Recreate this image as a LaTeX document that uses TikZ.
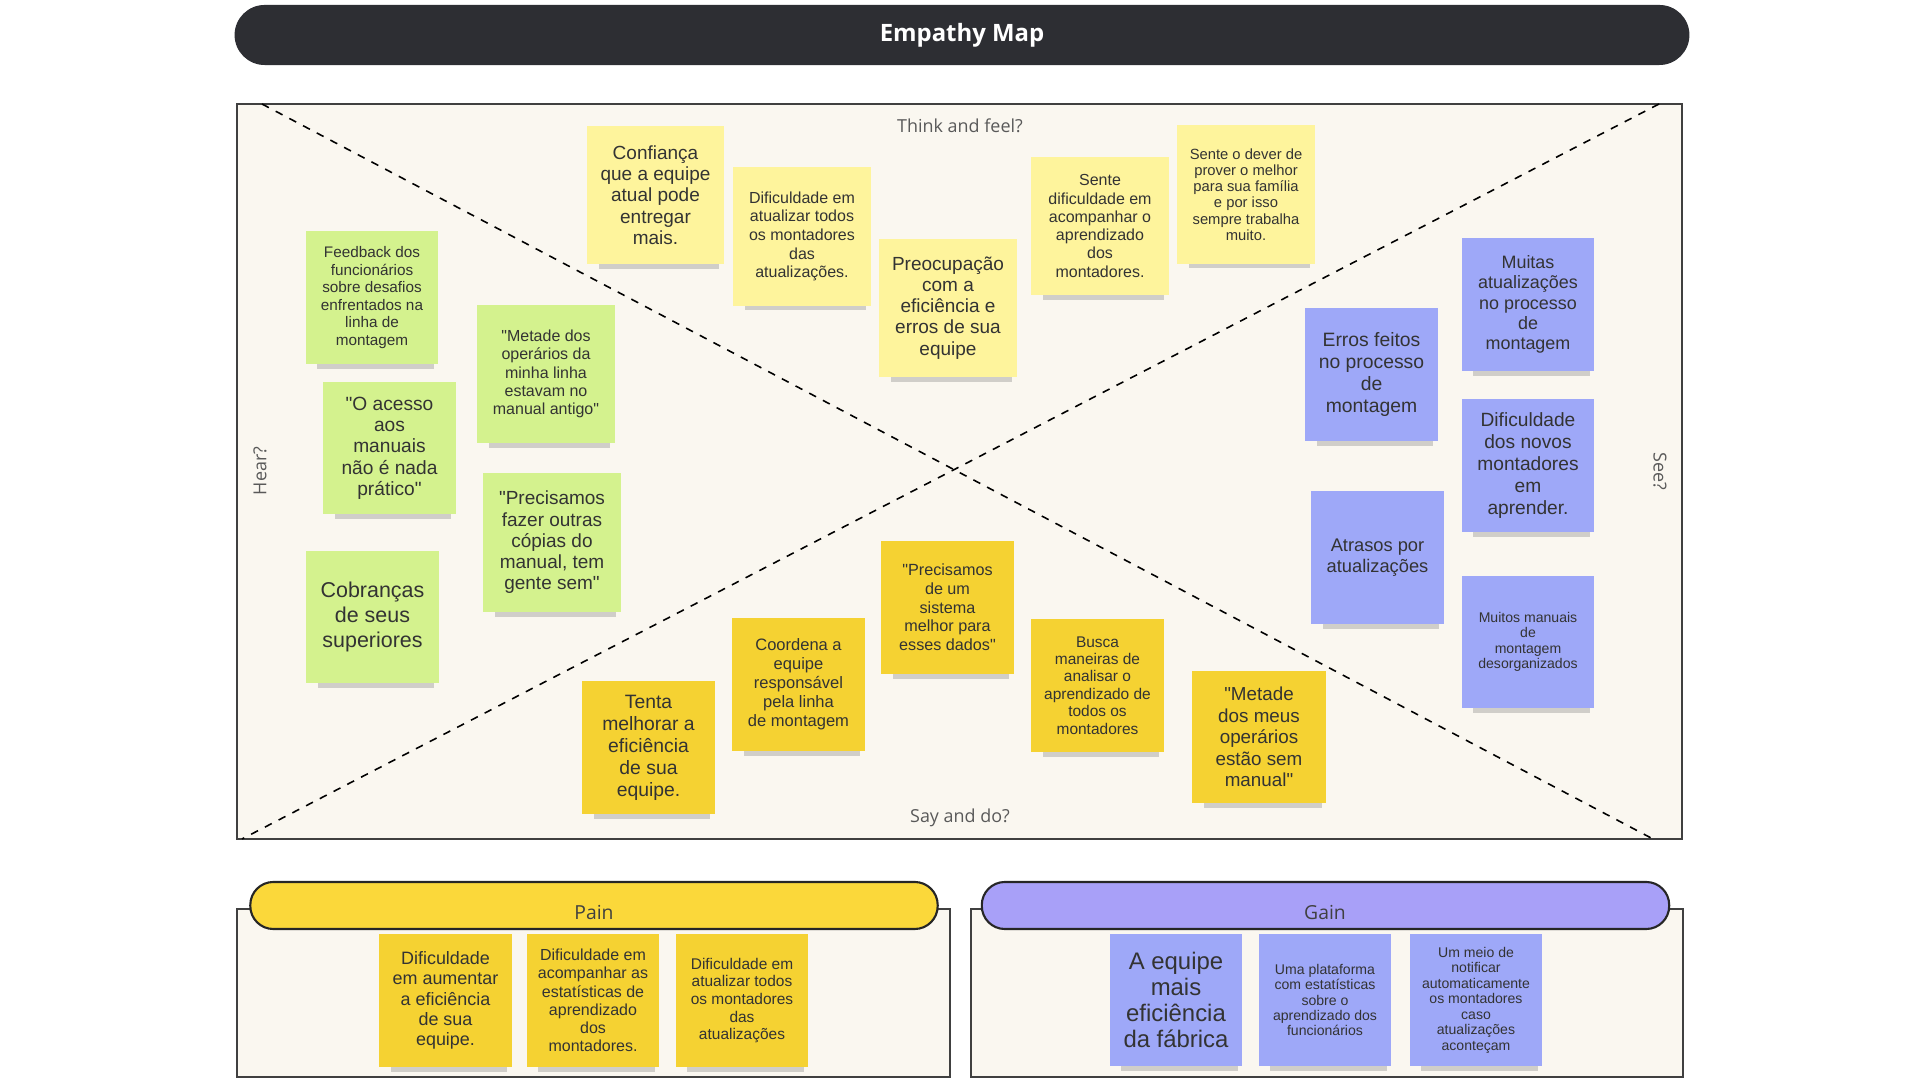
\documentclass[tikz,border=0pt]{standalone}
\usepackage{fontspec}
\setmainfont{Liberation Sans}[Ligatures=TeXOff]
\newfontfamily\labelfont{Open Sans}
\usetikzlibrary{shadows}

\definecolor{titlegray}{HTML}{2D2E33}
\definecolor{cream}{HTML}{FAF7F0}
\definecolor{notetext}{HTML}{333333}
\definecolor{thinkyel}{HTML}{FEF49C}
\definecolor{heargreen}{HTML}{D4F28E}
\definecolor{sayyel}{HTML}{F5D232}
\definecolor{seeblue}{HTML}{9EA8F8}
\definecolor{painyel}{HTML}{FBD83A}
\definecolor{gainblue}{HTML}{A8A0F8}

\begin{document}
\begin{tikzpicture}[x=0.01cm, y=-0.01cm, every node/.style={inner sep=0pt},
    note/.style={minimum width=1.32cm, minimum height=1.32cm, align=center, text=notetext,
      drop shadow={shadow xshift=0.04cm, shadow yshift=-0.15cm, shadow scale=0.88, opacity=0.28, fill=black!60}},
    think/.style={note, fill=thinkyel, minimum width=1.37cm, minimum height=1.38cm},
    hear/.style={note, fill=heargreen},
    say/.style={note, fill=sayyel},
    see/.style={note, fill=seeblue},
    fs/.style 2 args={font=\fontsize{#1pt}{#2pt}\selectfont},
    side/.style={font=\labelfont\fontsize{5.1pt}{6pt}\selectfont, text=black!65},
    frame/.style={fill=cream, draw=black!75, line width=0.6pt},
    diag/.style={dash pattern=on 2.2pt off 2.2pt, line width=0.45pt},
    pill/.style={draw=black!85, line width=0.6pt, rounded corners=0.23cm, minimum width=6.87cm, minimum height=0.47cm},
  ]
    \fill[white] (0,0) rectangle (1920,1080);
    \useasboundingbox (0,0) rectangle (1920,1080);

    \node[fill=titlegray, rounded corners=0.3cm, minimum width=14.54cm, minimum height=0.6cm,
      text=white, font=\labelfont\bfseries\fontsize{6.8pt}{8pt}\selectfont] (title) at (962,35) {Empathy Map};

    \draw[frame] (237,104) rectangle (1682,839);
    \coordinate (tl) at (262,104);
    \coordinate (tr) at (1659,104);
    \coordinate (bl) at (242,839);
    \coordinate (br) at (1653,839);
    \draw[diag] (tl) -- (br);
    \draw[diag] (tr) -- (bl);

    \node[side] (think) at (960,126) {Think and feel?};
    \node[side] (say) at (960,818) {Say and do?};
    \node[side, rotate=90] (hear) at (260,471) {Hear?};
    \node[side, rotate=-90] (see) at (1660,471) {See?};

    \node[think, fs={5.4}{6.06}] (conf) at (655.5,195) {Confiança\\que a equipe\\atual pode\\entregar\\mais.};
    \node[think, fs={4.55}{5.3}] (atual) at (802,236.5) {Dificuldade em\\atualizar todos\\os montadores\\das\\atualizações.};
    \node[think, fs={5.4}{6.0}] (preoc) at (948,308) {Preocupação\\com a\\eficiência e\\erros de sua\\equipe};
    \node[think, fs={4.55}{5.2}] (sdif) at (1100,226) {Sente\\dificuldade em\\acompanhar o\\aprendizado\\dos\\montadores.};
    \node[think, fs={4.2}{4.6}] (dever) at (1246,194.5) {Sente o dever de\\prover o melhor\\para sua família\\e por isso\\sempre trabalha\\muito.};

    \node[hear, fs={4.35}{5.0}] (feedb) at (372,297.5) {Feedback dos\\funcionários\\sobre desafios\\enfrentados na\\linha de\\montagem};
    \node[hear, fs={4.55}{5.2}, minimum width=1.38cm, minimum height=1.38cm] (metop) at (546,374) {"Metade dos\\operários da\\minha linha\\estavam no\\manual antigo"};
    \node[hear, fs={5.45}{6.06}] (acesso) at (389.5,448) {"O acesso\\aos\\manuais\\não é nada\\prático"};
    \node[hear, fs={5.4}{6.05}, minimum width=1.38cm, minimum height=1.39cm] (copias) at (552,542.5) {"Precisamos\\fazer outras\\cópias do\\manual, tem\\gente sem"};
    \node[hear, fs={6.1}{7.0}] (cobr) at (372.5,617) {Cobranças\\de seus\\superiores};

    \node[say, fs={4.6}{5.3}] (sist) at (947.5,607.5) {"Precisamos\\de um\\sistema\\melhor para\\esses dados"};
    \node[say, fs={4.7}{5.4}] (coord) at (798.5,684.5) {Coordena a\\equipe\\responsável\\pela linha\\de montagem};
    \node[say, fs={5.5}{6.26}] (tenta) at (648.5,747.5) {Tenta\\melhorar a\\eficiência\\de sua\\equipe.};
    \node[say, fs={4.4}{4.97}] (busca) at (1097.5,685.5) {Busca\\maneiras de\\analisar o\\aprendizado de\\todos os\\montadores};
    \node[say, fs={5.35}{6.1}, minimum width=1.34cm] (metmeus) at (1259,737) {"Metade\\dos meus\\operários\\estão sem\\manual"};

    \node[see, fs={5.1}{5.8}] (muitas) at (1528,304.5) {Muitas\\atualizações\\no processo\\de\\montagem};
    \node[see, fs={5.5}{6.3}] (erros) at (1371.5,374.5) {Erros feitos\\no processo\\de\\montagem};
    \node[see, fs={5.45}{6.2}] (novos) at (1528,465.5) {Dificuldade\\dos novos\\montadores\\em\\aprender.};
    \node[see, fs={5.2}{5.9}] (atras) at (1377.5,557.5) {Atrasos por\\atualizações};
    \node[see, fs={4.0}{4.4}] (desorg) at (1528,642) {Muitos manuais\\de\\montagem\\desorganizados};

    \draw[frame] (237,909) rectangle (950,1077);
    \node[pill, fill=painyel] (painbar) at (594,905.5) {};
    \node[side, font=\labelfont\fontsize{5.5pt}{6pt}\selectfont, text=black!75] (pain) at (594,913) {Pain};
    \node[say, fs={5.1}{5.8}] (p1) at (445.5,1000.5) {Dificuldade\\em aumentar\\a eficiência\\de sua\\equipe.};
    \node[say, fs={4.55}{5.2}] (p2) at (593,1000.5) {Dificuldade em\\acompanhar as\\estatísticas de\\aprendizado\\dos\\montadores.};
    \node[say, fs={4.4}{5.0}] (p3) at (742,1000.5) {Dificuldade em\\atualizar todos\\os montadores\\das\\atualizações};

    \draw[frame] (971,909) rectangle (1683,1077);
    \node[pill, fill=gainblue] (gainbar) at (1325.5,905.5) {};
    \node[side, font=\labelfont\fontsize{5.5pt}{6pt}\selectfont, text=black!75] (gain) at (1325,913) {Gain};
    \node[see, fs={6.8}{7.4}] (g1) at (1176,1000) {A equipe\\mais\\eficiência\\da fábrica};
    \node[see, fs={4.0}{4.4}] (g2) at (1325,1000) {Uma plataforma\\com estatísticas\\sobre o\\aprendizado dos\\funcionários};
    \node[see, fs={4.0}{4.4}] (g3) at (1476,1000) {Um meio de\\notificar\\automaticamente\\os montadores\\caso\\atualizações\\aconteçam};
\end{tikzpicture}
\end{document}
